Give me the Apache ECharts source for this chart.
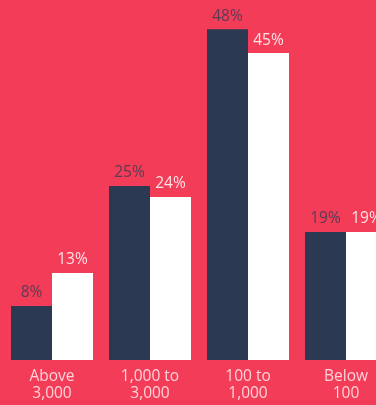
<!DOCTYPE html>
<html>
<head>
<meta charset="utf-8">
<script src="https://cdn.jsdelivr.net/npm/echarts@6/dist/echarts.min.js"></script>
<style>
  html, body { margin: 0; padding: 0; background: #F33C57; }
  #chart { width: 376px; height: 405px; }
</style>
</head>
<body>
<div id="chart"></div>
<script>
  const categories = ['Above\n3,000', '1,000 to\n3,000', '100 to\n1,000', 'Below\n100']
  const seriesDark = [7.9, 25.4, 48.3, 18.7]
  const seriesWhite = [12.7, 23.8, 44.8, 18.7]

  const chart = echarts.init(document.getElementById('chart'))

  const label = (color) => ({
    show: true,
    position: 'top',
    distance: 5,
    color: color,
    fontFamily: 'Open Sans',
    fontSize: 15.5,
    formatter: (p) => Math.round(p.value) + '%'
  })

  chart.setOption({
    backgroundColor: '#F33C57',
    animation: false,
    // last category runs past the right edge, like in the source
    grid: { left: 3, width: 392, top: 17.5, bottom: 45, outerBoundsMode: 'none', containLabel: false },
    xAxis: {
      type: 'category',
      data: categories,
      axisLine: { show: false },
      axisTick: { show: false },
      axisLabel: {
        color: '#FFD3DA',
        fontFamily: 'Open Sans',
        fontSize: 15.5,
        lineHeight: 17,
        margin: 8
      }
    },
    yAxis: {
      type: 'value',
      min: 0,
      max: 50,
      show: false,
      splitLine: { show: false }
    },
    series: [
      {
        type: 'bar',
        data: seriesDark,
        barWidth: 41,
        barGap: '0%',
        itemStyle: { color: '#2B3A52' },
        label: label('rgba(43,58,82,0.75)')
      },
      {
        type: 'bar',
        data: seriesWhite,
        barWidth: 41,
        barGap: '0%',
        itemStyle: { color: '#FFFFFF' },
        label: label('rgba(255,255,255,0.85)')
      }
    ]
  })
</script>
</body>
</html>
